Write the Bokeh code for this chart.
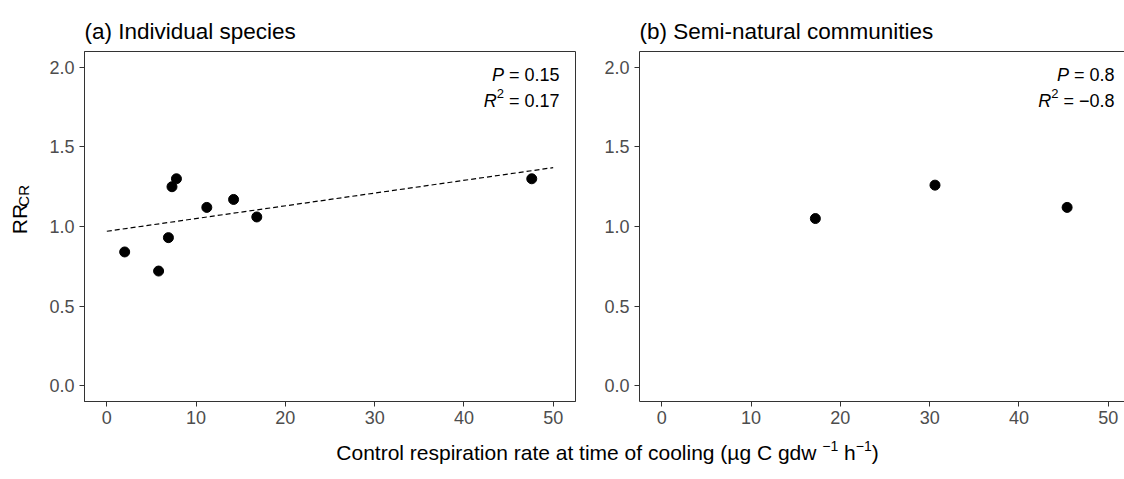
import math
from bokeh.plotting import figure
from bokeh.models import Range1d, FixedTicker, PrintfTickFormatter, LinearAxis
from bokeh.layouts import row, column
from bokeh.embed import file_html
from bokeh.resources import INLINE
from bokeh.core.properties import value

# ---------------- data ----------------
species_x = [2.0, 5.8, 6.9, 7.3, 7.8, 11.2, 14.2, 16.8, 47.6]
species_y = [0.84, 0.72, 0.93, 1.25, 1.30, 1.12, 1.17, 1.06, 1.30]
fit_x = [0, 50]
fit_y = [0.97, 1.37]
community_x = [17.2, 30.6, 45.4]
community_y = [1.05, 1.26, 1.12]
x_ticks = [0, 10, 20, 30, 40, 50]
y_ticks = [0.0, 0.5, 1.0, 1.5, 2.0]
panel_titles = ["(a) Individual species", "(b) Semi-natural communities"]
p_values = ["0.15", "0.8"]
r2_values = ["0.17", "\u22120.8"]
x_title_main = "Control respiration rate at time of cooling (\u00b5g C gdw"
y_title_main = "RR"
y_title_sub = "CR"

FONT = "Liberation Sans"
TICK_COL = "#4d4d4d"
LINE_COL = "#333333"
NB = "\u00a0"

# layout constants (pixels)
TOP_H = 46
MB_TOP = 5
FRAME_H = 350
MB_BOTTOM = 30
ROW_H = MB_TOP + FRAME_H + MB_BOTTOM
BOT_H = 479 - TOP_H - ROW_H

# Arial / Liberation Sans advance widths (per 1000 em)
W = {' ': 278, NB: 278, '(': 333, ')': 333, '.': 278, '=': 584, '\u2212': 584, '-': 333,
     '\u00b5': 576}
for c in "0123456789":
    W[c] = 556
W.update(dict(a=556, b=556, c=500, d=556, e=556, f=278, g=556, h=556, i=222, j=222,
              k=500, l=222, m=833, n=556, o=556, p=556, q=556, r=333, s=500, t=278,
              u=556, v=500, w=722, x=500, y=500, z=500))
W.update(dict(A=667, B=667, C=722, D=722, E=667, F=611, G=778, H=722, I=278, J=500,
              K=667, L=556, M=833, N=722, O=778, P=667, Q=778, R=722, S=667, T=611,
              U=722, V=667, W=944, X=667, Y=667, Z=611))


def tw(s, size):
    return sum(W.get(ch, 556) for ch in s) / 1000.0 * size


def strip(width, height):
    f = figure(width=width, height=height, x_range=Range1d(0, width), y_range=Range1d(0, height),
               min_border=0, min_border_left=0, min_border_right=0, min_border_top=0,
               min_border_bottom=0, toolbar_location=None, output_backend="svg",
               x_axis_location=None, y_axis_location=None)
    f.grid.visible = False
    f.outline_line_color = None
    f.background_fill_color = "white"
    f.border_fill_color = "white"
    return f


def txt(f, x, y, s, size, style="normal", align="left", angle=0.0, color="black"):
    f.text(x=[x], y=[y], text=[s], text_font=value(FONT), text_font_size=f"{size}px",
           text_font_style=style, text_align=align, text_baseline="alphabetic",
           text_color=color, angle=angle)


def panel(width, x_end, mb_left, mb_right):
    p = figure(width=width, height=ROW_H, x_range=Range1d(-2.5, x_end), y_range=Range1d(-0.1, 2.1),
               min_border_left=mb_left, min_border_right=mb_right, min_border_top=MB_TOP,
               min_border_bottom=MB_BOTTOM, toolbar_location=None, output_backend="svg")
    p.grid.visible = False
    p.background_fill_color = "white"
    p.border_fill_color = "white"
    for ax in (p.xaxis, p.yaxis):
        ax.major_label_text_font = FONT
        ax.major_label_text_font_size = "18px"
        ax.major_label_text_color = TICK_COL
        ax.major_tick_out = 5
        ax.major_tick_in = 0
        ax.minor_tick_line_color = None
        ax.axis_line_color = LINE_COL
        ax.major_tick_line_color = LINE_COL
        ax.major_label_standoff = 5
    p.xaxis.major_label_standoff = 4
    p.xaxis.ticker = FixedTicker(ticks=x_ticks)
    p.yaxis.ticker = FixedTicker(ticks=y_ticks)
    p.yaxis.formatter = PrintfTickFormatter(format="%.1f")
    return p


SX = 491 / 55.0        # px per x unit
SY = FRAME_H / 2.2     # px per y unit


def stats(p, pv, rv):
    fs, fs_sup = 18, 13
    x_right = 50.7
    eq = NB + "=" + NB
    for y_base, pieces in (
        (1.955, [("P", fs, "italic", 0), (eq + pv, fs, "normal", 0)]),
        (1.79, [("R", fs, "italic", 0), ("2", fs_sup, "normal", 7), (eq + rv, fs, "normal", 0)]),
    ):
        total = sum(tw(s, sz) for s, sz, _, _ in pieces)
        x = x_right - total / SX
        for s, sz, st, rs in pieces:
            p.text(x=[x], y=[y_base + rs / SY], text=[s], text_font=value(FONT),
                   text_font_size=f"{sz}px", text_font_style=st, text_align="left",
                   text_baseline="alphabetic", text_color="black")
            x += tw(s, sz) / SX


# ---------------- panel (a) ----------------
pa = panel(560, 52.5, 44, 25)
pa.outline_line_color = LINE_COL
pa.line(fit_x, fit_y, line_color="black", line_width=1.2, line_dash="5 3")
pa.scatter(species_x, species_y, size=10, color="black")
stats(pa, p_values[0], r2_values[0])

# ---------------- panel (b) ----------------
pb = panel(524, -2.5 + 485 / SX, 39, 0)
pb.outline_line_color = None
top_ax = LinearAxis(ticker=FixedTicker(ticks=[]), axis_line_color=LINE_COL,
                    major_tick_out=0, major_tick_in=0, minor_tick_out=0, minor_tick_in=0,
                    major_label_standoff=0, major_label_text_font_size="0px")
pb.add_layout(top_ax, "above")
pb.scatter(community_x, community_y, size=10, color="black")
stats(pb, p_values[1], r2_values[1])

# ---------------- strips with titles ----------------
top = strip(1124, TOP_H)
txt(top, 84, TOP_H - 31, panel_titles[0], 22.5)
txt(top, 639, TOP_H - 31, panel_titles[1], 22.5)

left = strip(40, ROW_H)
rr_w = tw(y_title_main, 21)
cr_w = tw(y_title_sub, 15)
mid = ROW_H - (221 - TOP_H)          # screen y 221 in strip data units
y0 = mid - (rr_w + cr_w) / 2
txt(left, 19, y0, y_title_main, 21, angle=math.pi / 2)
txt(left, 23, y0 + rr_w, y_title_sub, 15, angle=math.pi / 2)

bottom = strip(1124, BOT_H)
fs, fss = 21, 14
base = BOT_H - (452 - (TOP_H + ROW_H))   # baseline at screen y 452
pieces = [(x_title_main + NB, fs, 0), ("\u22121", fss, 7), (NB + "h", fs, 0),
          ("\u22121", fss, 7), (")", fs, 0)]
total = sum(tw(s, sz) for s, sz, _ in pieces)
x = 607 - total / 2
for s, sz, rs in pieces:
    txt(bottom, x, base + rs, s, sz)
    x += tw(s, sz)

layout = column(top, row(left, pa, pb), bottom)
open("out.html", "w").write(file_html(layout, INLINE))
